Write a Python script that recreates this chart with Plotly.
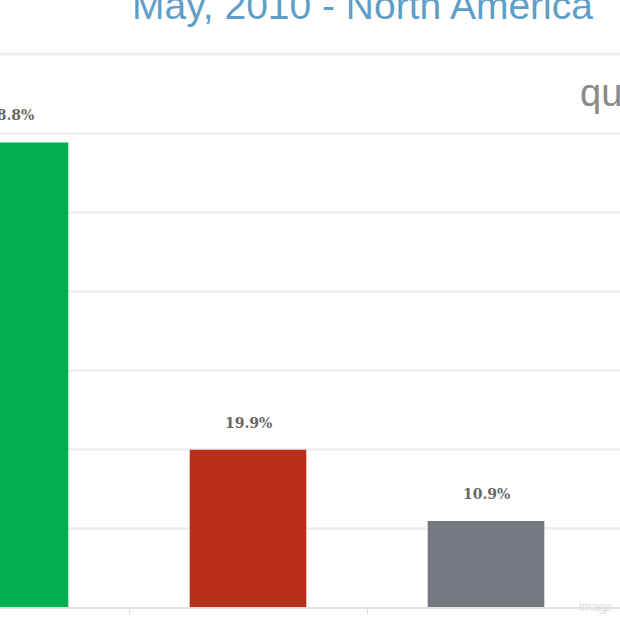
import plotly.graph_objects as go

categories = [0, 1, 2]
values = [58.8, 19.9, 10.9]
labels = ["58.8%", "19.9%", "10.9%"]
colors = ["#00b050", "#b8301a", "#76787f"]
grid_vals = [10, 20, 30, 40, 50, 60, 70]

fig = go.Figure()
fig.add_trace(go.Bar(
    x=categories, y=values, width=0.49,
    marker=dict(color=colors, line=dict(width=0)),
    cliponaxis=False, hoverinfo="skip",
))

annotations = []
for cx, v, lab in zip(categories, values, labels):
    annotations.append(dict(
        x=cx, y=v, xref="x", yref="y", text="<b>" + lab + "</b>", showarrow=False,
        xanchor="center", yanchor="middle", yshift=27,
        font=dict(family="DejaVu Serif", size=14, color="#666666"),
    ))

annotations += [
    dict(text="May, 2010 - North America", xref="paper", yref="paper",
         x=0.585, y=1.087, xanchor="center", yanchor="middle", showarrow=False,
         font=dict(family="Liberation Sans", size=39, color="#5f9ec6")),
    dict(text="quantcast", xref="paper", yref="paper",
         x=0.932, y=0.93, xanchor="left", yanchor="middle", showarrow=False,
         font=dict(family="Liberation Sans", size=38, color="#8a8a8a")),
    dict(text="image", xref="paper", yref="paper",
         x=0.99, y=0.0, xanchor="right", yanchor="middle", showarrow=False,
         font=dict(family="Liberation Sans", size=12, color="#dcdcdc")),
]

fig.update_layout(
    width=620, height=620,
    margin=dict(l=0, r=0, t=54, b=13),
    paper_bgcolor="white", plot_bgcolor="white",
    showlegend=False,
    xaxis=dict(range=[-0.042, 2.563], showgrid=False, zeroline=False,
               tickvals=[0.504, 1.504, 2.504], ticktext=["", "", ""],
               ticks="outside", ticklen=5, tickcolor="#d8d8d8",
               showline=True, linecolor="#e2e2e2", linewidth=2),
    yaxis=dict(range=[0, 70], tickvals=grid_vals, showticklabels=False,
               showgrid=True, gridcolor="#f0f0f0", gridwidth=3, zeroline=False),
    annotations=annotations,
)
fig.add_shape(type="line", xref="paper", yref="paper", x0=0, x1=1, y0=1, y1=1,
              line=dict(color="#eeeeee", width=3), layer="below")

fig.write_html("out.html", config={"displayModeBar": False},
               post_script="document.body.style.margin='0';")
